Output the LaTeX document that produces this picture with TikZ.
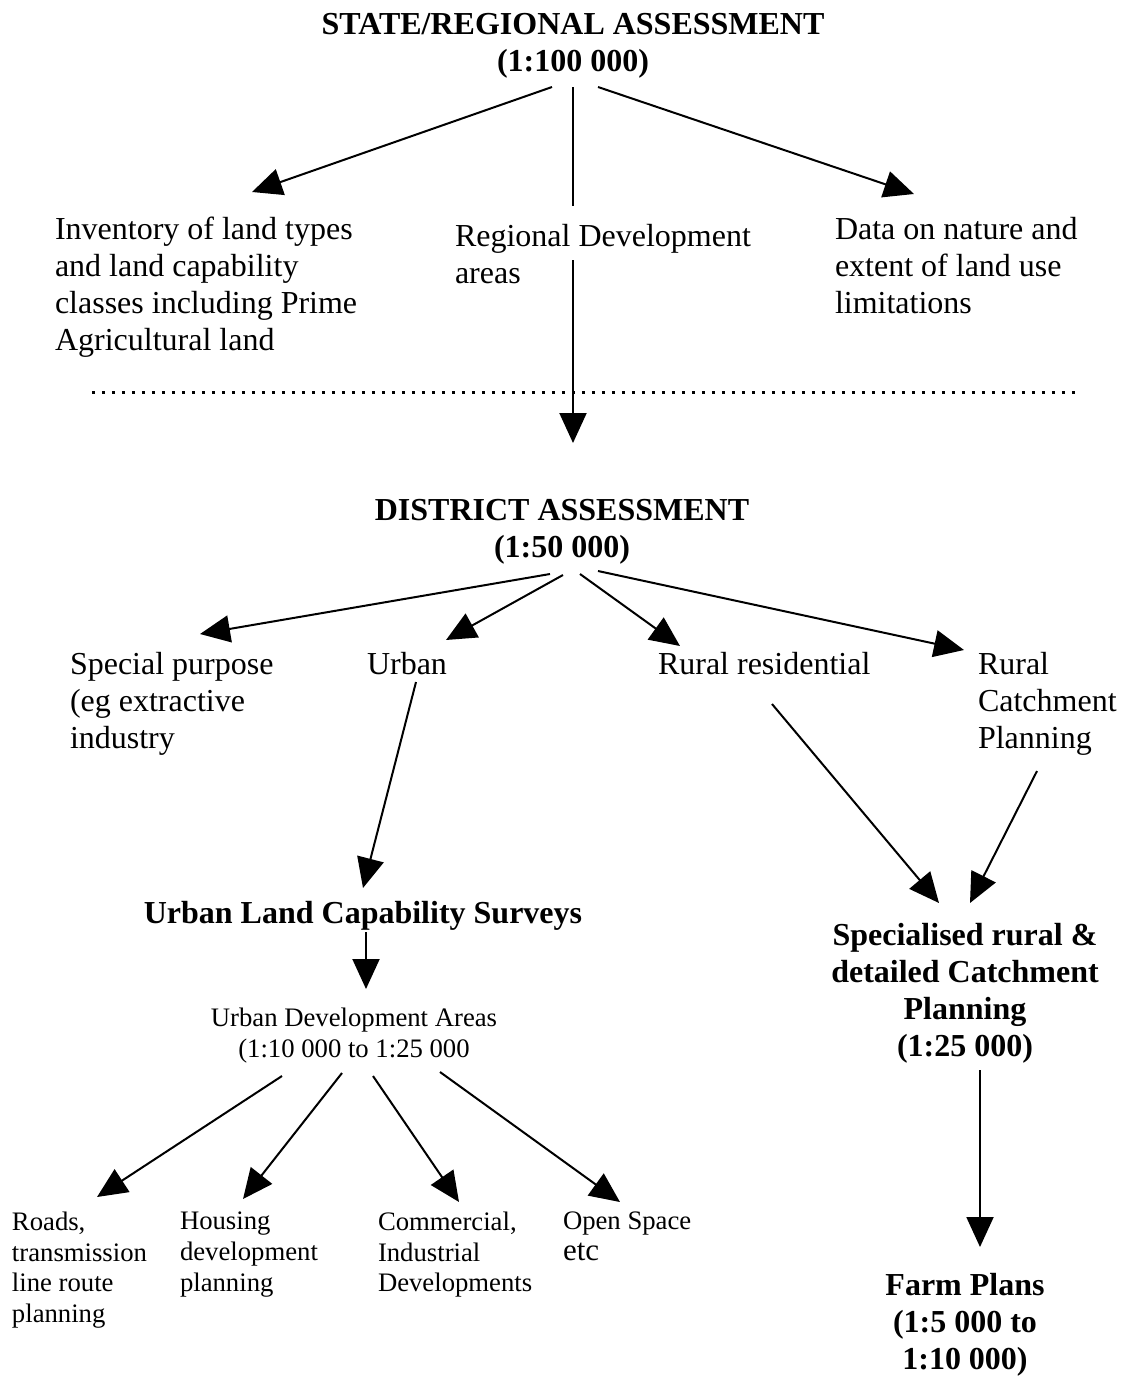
\documentclass[tikz,border=0pt]{standalone}
\usepackage{fontspec}
\setmainfont{Liberation Serif}
\usetikzlibrary{arrows.meta}
\begin{document}
\begin{tikzpicture}[x=1pt,y=-1pt,
  txt/.style={inner sep=0pt,outer sep=0pt,align=left,anchor=north west,font=\fontsize{32}{37}\selectfont},
  head/.style={inner sep=0pt,outer sep=0pt,align=center,anchor=north,font=\fontsize{32}{37}\selectfont\bfseries},
  small/.style={inner sep=0pt,outer sep=0pt,align=left,anchor=north west,font=\fontsize{26.7}{30.7}\selectfont},
  conn/.style={line width=2pt,-{Triangle[length=30pt,width=27pt]}},
  plain/.style={line width=2pt}]
\useasboundingbox[fill=white] (0,0) rectangle (1128,1376);

% nodes
\node[head] (state) at (573,13) {STATE/REGIONAL ASSESSMENT\\(1:100 000)};
\node[txt] (inv) at (55,217) {Inventory of land types\\and land capability\\classes including Prime\\Agricultural land};
\node[txt] (reg) at (455,224) {Regional Development\\areas};
\node[txt] (data) at (835,217) {Data on nature and\\extent of land use\\limitations};
\node[head] (district) at (562,499) {DISTRICT ASSESSMENT\\(1:50 000)};
\node[txt] (special) at (70,652) {Special purpose\\(eg extractive\\industry};
\node[txt] (urban) at (367,652) {Urban};
\node[txt] (rres) at (658,652) {Rural residential};
\node[txt] (rcat) at (978,652) {Rural\\Catchment\\Planning};
\node[head] (ulcs) at (363,901) {Urban Land Capability Surveys};
\node[head] (spec) at (965,923) {Specialised rural \&\\detailed Catchment\\Planning\\(1:25 000)};
\node[small,align=center,anchor=north] (uda) at (354,1008) {Urban Development Areas\\(1:10 000 to 1:25 000};
\node[small] (roads) at (12,1212) {Roads,\\transmission\\line route\\planning};
\node[small] (housing) at (180,1212) {Housing\\development\\planning};
\node[small] (comm) at (378,1212) {Commercial,\\Industrial\\Developments};
\node[small] (open) at (563,1212) {Open Space\\{\fontsize{31}{34}\selectfont etc}};
\node[head] (farm) at (965,1273) {Farm Plans\\(1:5 000 to\\1:10 000)};

% connector end points
\coordinate (s1) at (552,87);  \coordinate (t1) at (252,192);
\coordinate (s2) at (573,87);  \coordinate (t2) at (573,206);
\coordinate (s3) at (598,87);  \coordinate (t3) at (914,194);
\coordinate (s4) at (573,260); \coordinate (t4) at (573,443);
\coordinate (dl) at (92,392);  \coordinate (dr) at (1077,392);
\coordinate (ds1) at (550,574); \coordinate (dt1) at (200,634);
\coordinate (ds2) at (563,575); \coordinate (dt2) at (446,640);
\coordinate (ds3) at (580,574); \coordinate (dt3) at (680,646);
\coordinate (ds4) at (598,571); \coordinate (dt4) at (964,650);
\coordinate (us) at (416,682);  \coordinate (ut) at (363,888);
\coordinate (rs1) at (772,704); \coordinate (rt1) at (939,903);
\coordinate (rs2) at (1037,771); \coordinate (rt2) at (970,903);
\coordinate (vs) at (366,932);  \coordinate (vt) at (366,989);
\coordinate (bs1) at (282,1076); \coordinate (bt1) at (97,1197);
\coordinate (bs2) at (342,1073); \coordinate (bt2) at (243,1199);
\coordinate (bs3) at (373,1076); \coordinate (bt3) at (459,1202);
\coordinate (bs4) at (440,1072); \coordinate (bt4) at (620,1202);
\coordinate (fs) at (980,1070); \coordinate (ft) at (980,1247);

% connectors
\draw[conn] (s1) -- (t1);
\draw[plain] (s2) -- (t2);
\draw[conn] (s3) -- (t3);
\draw[conn] (s4) -- (t4);
\draw[line width=3pt,dash pattern=on 3pt off 7pt] (dl) -- (dr);
\draw[conn] (ds1) -- (dt1);
\draw[conn] (ds2) -- (dt2);
\draw[conn] (ds3) -- (dt3);
\draw[conn] (ds4) -- (dt4);
\draw[conn] (us) -- (ut);
\draw[conn] (rs1) -- (rt1);
\draw[conn] (rs2) -- (rt2);
\draw[conn] (vs) -- (vt);
\draw[conn] (bs1) -- (bt1);
\draw[conn] (bs2) -- (bt2);
\draw[conn] (bs3) -- (bt3);
\draw[conn] (bs4) -- (bt4);
\draw[conn] (fs) -- (ft);
\end{tikzpicture}
\end{document}
